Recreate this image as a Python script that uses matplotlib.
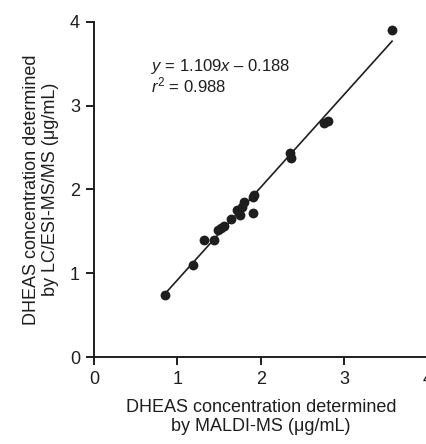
import matplotlib.pyplot as plt
import numpy as np

plt.rcParams['font.family'] = ['Liberation Sans', 'DejaVu Sans']
plt.rcParams['mathtext.fontset'] = 'custom'
plt.rcParams['mathtext.rm'] = 'Liberation Sans'
plt.rcParams['mathtext.it'] = 'Liberation Sans:italic'

# MALDI-MS (x) vs LC/ESI-MS/MS (y), ug/mL
maldi = [0.85, 1.19, 1.32, 1.44, 1.48, 1.52, 1.56, 1.64, 1.71, 1.75, 1.77,
         1.80, 1.91, 1.91, 1.92, 2.35, 2.36, 2.75, 2.80, 3.57]
lcms = [0.744, 1.095, 1.40, 1.40, 1.52, 1.54, 1.56, 1.65, 1.755, 1.70, 1.795,
        1.85, 1.72, 1.91, 1.94, 2.43, 2.38, 2.79, 2.82, 3.90]
slope = 1.109
intercept = -0.188
r2 = 0.988

x_ticks = [0, 1, 2, 3, 4]
y_ticks = [0, 1, 2, 3, 4]

ink = '#1e1e1e'

fig = plt.figure(figsize=(4.27, 4.44), dpi=100)
W, H = 427, 444
ax = fig.add_axes([94 / W, (H - 357) / H, (428 - 94) / W, (357 - 22) / H])

ax.scatter(maldi, lcms, s=50, color=ink, zorder=3, linewidths=0)

# regression line over the data range
xs = np.array([min(maldi), max(maldi)])
ax.plot(xs, slope * xs + intercept, color=ink, lw=1.2, zorder=2)

ax.text(0.68, 3.47, f"$y$ = {slope:.3f}$x$ \u2013 {abs(intercept):.3f}",
        fontsize=12, color=ink, va='center', ha='left')
ax.text(0.68, 3.24, f"$r^2$ = {r2:.3f}",
        fontsize=12, color=ink, va='center', ha='left')

ax.set_xlim(0, 4)
ax.set_ylim(0, 4)
ax.set_xticks(x_ticks)
ax.set_yticks(y_ticks)
ax.set_xticklabels([str(t) for t in x_ticks])
ax.set_yticklabels([str(t) for t in y_ticks])

for side in ['top', 'right']:
    ax.spines[side].set_visible(False)
for side in ['left', 'bottom']:
    ax.spines[side].set_linewidth(1.4)
    ax.spines[side].set_color(ink)
    ax.spines[side].set_clip_on(False)

ax.tick_params(direction='out', length=6, width=1.4, colors=ink,
               labelsize=13, pad=4)

ax.set_xlabel("DHEAS concentration determined\nby MALDI-MS (\u03bcg/mL)",
              fontsize=13, color=ink, labelpad=8, linespacing=1.15)
ax.set_ylabel("DHEAS concentration determined\nby LC/ESI-MS/MS (\u03bcg/mL)",
              fontsize=13, color=ink, labelpad=8, linespacing=1.15)

fig.savefig("out.png", dpi=100)
